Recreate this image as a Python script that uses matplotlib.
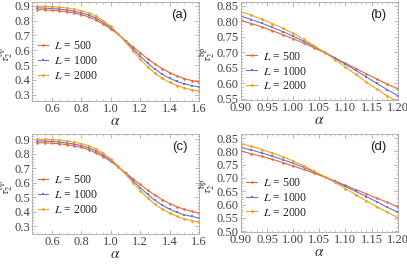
import numpy as np
import matplotlib

matplotlib.use("Agg")
import matplotlib.pyplot as plt
from matplotlib.ticker import MultipleLocator, FormatStrFormatter

plt.rcParams["font.family"] = ["Liberation Serif", "DejaVu Serif"]
plt.rcParams["mathtext.fontset"] = "stix"

# ── data ──────────────────────────────────────────────
L_LABELS = ["500", "1000", "2000"]
COLORS = ["#EB6235", "#6078D0", "#F4A21C"]

alpha_wide = [0.50, 0.55, 0.60, 0.65, 0.70, 0.75, 0.80, 0.85, 0.90, 0.95, 1.00, 1.05,
              1.10, 1.15, 1.20, 1.25, 1.30, 1.35, 1.40, 1.45, 1.50, 1.55, 1.60]

# panel (a)
a_500 = [0.874, 0.873, 0.870, 0.866, 0.860, 0.852, 0.841, 0.825, 0.803, 0.776, 0.744, 0.707,
         0.666, 0.624, 0.583, 0.543, 0.507, 0.476, 0.449, 0.427, 0.409, 0.396, 0.386]
a_1000 = [0.886, 0.885, 0.882, 0.878, 0.872, 0.864, 0.853, 0.838, 0.817, 0.788, 0.752, 0.709,
          0.662, 0.611, 0.561, 0.514, 0.473, 0.438, 0.411, 0.390, 0.374, 0.362, 0.353]
a_2000 = [0.898, 0.897, 0.895, 0.891, 0.886, 0.878, 0.867, 0.852, 0.831, 0.800, 0.761, 0.712,
          0.655, 0.596, 0.540, 0.489, 0.446, 0.411, 0.384, 0.362, 0.346, 0.334, 0.324]

# panel (c)
c_500 = [0.876, 0.875, 0.872, 0.868, 0.862, 0.854, 0.843, 0.827, 0.805, 0.778, 0.746, 0.709,
         0.668, 0.627, 0.587, 0.548, 0.513, 0.482, 0.455, 0.433, 0.415, 0.401, 0.391]
c_1000 = [0.888, 0.887, 0.884, 0.880, 0.874, 0.866, 0.855, 0.840, 0.819, 0.790, 0.754, 0.711,
          0.664, 0.614, 0.565, 0.519, 0.478, 0.444, 0.416, 0.395, 0.378, 0.366, 0.357]
c_2000 = [0.900, 0.899, 0.897, 0.893, 0.888, 0.880, 0.869, 0.854, 0.833, 0.802, 0.763, 0.714,
          0.658, 0.600, 0.544, 0.494, 0.451, 0.416, 0.389, 0.367, 0.350, 0.337, 0.327]

alpha_zoom = [0.90, 0.92, 0.94, 0.96, 0.98, 1.00, 1.02, 1.04, 1.06, 1.08,
              1.10, 1.12, 1.14, 1.16, 1.18, 1.20]

# panel (b)
b_500 = [0.803, 0.793, 0.782, 0.770, 0.757, 0.744, 0.730, 0.715, 0.699, 0.682,
         0.665, 0.648, 0.631, 0.614, 0.598, 0.583]
b_1000 = [0.817, 0.806, 0.794, 0.781, 0.767, 0.752, 0.736, 0.719, 0.701, 0.682,
          0.662, 0.642, 0.621, 0.600, 0.580, 0.561]
b_2000 = [0.831, 0.820, 0.807, 0.793, 0.778, 0.761, 0.742, 0.722, 0.700, 0.677,
          0.653, 0.629, 0.605, 0.582, 0.560, 0.540]

# panel (d)
d_500 = [0.801, 0.791, 0.781, 0.770, 0.758, 0.745, 0.732, 0.718, 0.703, 0.688,
         0.672, 0.656, 0.640, 0.624, 0.608, 0.592]
d_1000 = [0.815, 0.805, 0.794, 0.782, 0.769, 0.755, 0.740, 0.723, 0.705, 0.687,
          0.668, 0.649, 0.630, 0.610, 0.590, 0.571]
d_2000 = [0.829, 0.819, 0.807, 0.794, 0.780, 0.764, 0.746, 0.726, 0.705, 0.683,
          0.660, 0.637, 0.614, 0.592, 0.571, 0.551]

PANELS = [
    # tag, rect, x, series, xlim, ylim, xstep, ystep, fmt, ylabel x, legend y
    ("(a)", [0.079, 0.619, 0.410, 0.373], alpha_wide, [a_500, a_1000, a_2000],
     (0.465, 1.60), (0.258, 0.925), 0.2, 0.1, "%.1f", -0.105, 0.40),
    ("(b)", [0.592, 0.623, 0.385, 0.369], alpha_zoom, [b_500, b_1000, b_2000],
     (0.90, 1.20), (0.547, 0.862), 0.05, 0.05, "%.2f", -0.15, 0.29),
    ("(c)", [0.079, 0.117, 0.410, 0.377], alpha_wide, [c_500, c_1000, c_2000],
     (0.465, 1.60), (0.245, 0.935), 0.2, 0.1, "%.1f", -0.105, 0.39),
    ("(d)", [0.592, 0.125, 0.385, 0.369], alpha_zoom, [d_500, d_1000, d_2000],
     (0.90, 1.20), (0.497, 0.865), 0.05, 0.05, "%.2f", -0.15, 0.35),
]

MARKERS = ["o", "s", "D"]

fig = plt.figure(figsize=(4.07, 2.65), dpi=100)

for tag, rect, x, series, xlim, ylim, xstep, ystep, fmt, ylx, legy in PANELS:
    ax = fig.add_axes(rect)
    for ys, lab, col, mk in zip(series, L_LABELS, COLORS, MARKERS):
        ax.plot(x, ys, color=col, lw=0.8, marker=mk, ms=1.8, mew=0,
                label=rf"$L$ = {lab}")
    ax.set_xlim(*xlim)
    ax.set_ylim(*ylim)
    ax.xaxis.set_major_locator(MultipleLocator(xstep))
    ax.yaxis.set_major_locator(MultipleLocator(ystep))
    ax.xaxis.set_minor_locator(MultipleLocator(xstep / 4 if xstep == 0.2 else xstep / 5))
    ax.yaxis.set_minor_locator(MultipleLocator(ystep / 5))
    ax.xaxis.set_major_formatter(FormatStrFormatter(fmt))
    ax.yaxis.set_major_formatter(FormatStrFormatter(fmt))
    ax.tick_params(which="both", direction="in", top=True, right=True,
                   color="#999999", labelsize=9, pad=1.5, labelcolor="#444444")
    ax.tick_params(which="major", length=3, width=0.5)
    ax.tick_params(which="minor", length=1.5, width=0.4)
    for s in ax.spines.values():
        s.set_color("#aaaaaa")
        s.set_linewidth(0.6)
    ax.set_xlabel(r"$\alpha$", fontsize=11, labelpad=0, color="#333333")
    ax.set_ylabel(r"$\tau_2^{\mathrm{bp}}$", fontsize=8.5, color="#333333")
    ax.yaxis.set_label_coords(ylx, 0.47)
    ax.text(0.93, 0.87, tag, transform=ax.transAxes, ha="right", va="center",
            fontsize=9.5, family=["Liberation Sans"], color="#222222")
    ax.legend(loc="center left", bbox_to_anchor=(-0.01, legy), frameon=False,
              fontsize=8.5, handlelength=0.9, handletextpad=0.5, labelspacing=0.25,
              borderaxespad=0.2, labelcolor="#222222")

fig.savefig("out.png", dpi=100)
